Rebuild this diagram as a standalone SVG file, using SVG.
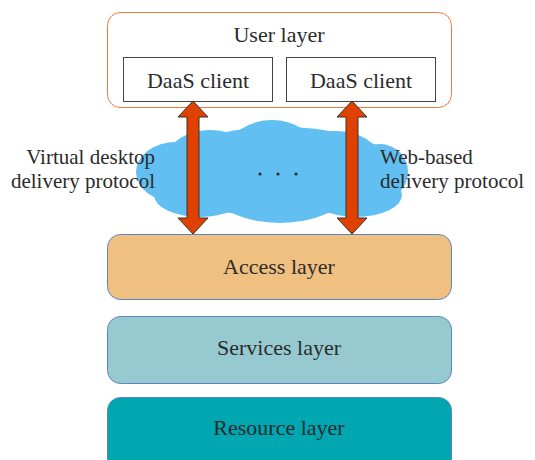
<svg xmlns="http://www.w3.org/2000/svg" width="535" height="460" viewBox="0 0 535 460" font-family="'Liberation Serif', serif">
  <style>
    text { font-family: 'Liberation Serif', 'Times New Roman', serif !important; fill: #2b2b2b; }
    .lbl { font-size: 22px; text-anchor: middle; }
    .side { font-size: 21px; }
    .layer { stroke: #5a86c0; stroke-width: 1; }
    .client { fill: #ffffff; stroke: #444444; stroke-width: 1; }
    .arrow { fill: #e04000; stroke: #333333; stroke-width: 1; stroke-linejoin: miter; }
    .cloud { fill: #62bff2; }
    .dot { fill: #2b2b2b; }
  </style>
  <rect width="535" height="460" fill="#ffffff"/>

  <!-- Network cloud -->
  <g id="cloud">
    <g class="cloud">
      <ellipse cx="280" cy="172" rx="120" ry="45"/>
      <ellipse cx="176" cy="172" rx="40" ry="30"/>
      <ellipse cx="380" cy="172" rx="28" ry="28"/>
      <ellipse cx="272" cy="152" rx="44" ry="32"/>
      <ellipse cx="210" cy="157" rx="42" ry="27"/>
      <ellipse cx="336" cy="157" rx="42" ry="26"/>
      <ellipse cx="280" cy="195" rx="62" ry="28"/>
      <ellipse cx="200" cy="195" rx="46" ry="22"/>
      <ellipse cx="356" cy="195" rx="46" ry="22"/>
    </g>
    <circle class="dot" cx="260" cy="174" r="1.6"/>
    <circle class="dot" cx="278" cy="174" r="1.6"/>
    <circle class="dot" cx="296" cy="174" r="1.6"/>
  </g>

  <!-- User layer with clients -->
  <g id="user-layer">
    <rect x="107.5" y="12.5" width="344" height="95" rx="13" fill="#ffffff" stroke="#f07a35" stroke-width="1"/>
    <text class="lbl" x="279" y="42" style="font-family:'Liberation Serif', serif">User layer</text>
  </g>
  <g id="client-left">
    <rect class="client" x="123.5" y="57.5" width="149" height="44"/>
    <text class="lbl" x="198" y="88" style="font-family:'Liberation Serif', serif">DaaS client</text>
  </g>
  <g id="client-right">
    <rect class="client" x="286.5" y="57.5" width="149" height="44"/>
    <text class="lbl" x="361" y="88" style="font-family:'Liberation Serif', serif">DaaS client</text>
  </g>

  <!-- Protocol connectors -->
  <g id="connectors">
    <polygon class="arrow" points="193,101 208,117 199,117 199,218 208,218 193,234 178,218 187,218 187,117 178,117"/>
    <polygon class="arrow" points="352,101 367,117 358,117 358,218 367,218 352,234 337,218 346,218 346,117 337,117"/>
  </g>

  <g id="label-left">
    <text class="side" x="155" y="164" text-anchor="end" style="font-family:'Liberation Serif', serif">Virtual desktop</text>
    <text class="side" x="155" y="188" text-anchor="end" style="font-family:'Liberation Serif', serif">delivery protocol</text>
  </g>
  <g id="label-right">
    <text class="side" x="380" y="164" style="font-family:'Liberation Serif', serif">Web-based</text>
    <text class="side" x="380" y="188" style="font-family:'Liberation Serif', serif">delivery protocol</text>
  </g>

  <!-- Server-side layers -->
  <g id="access-layer">
    <rect class="layer" x="107.5" y="234.5" width="344" height="65" rx="13" fill="#f0c080"/>
    <text class="lbl" x="279" y="274" style="font-family:'Liberation Serif', serif">Access layer</text>
  </g>
  <g id="services-layer">
    <rect class="layer" x="107.5" y="316.5" width="344" height="67" rx="13" fill="#96c9d0"/>
    <text class="lbl" x="279" y="355" style="font-family:'Liberation Serif', serif">Services layer</text>
  </g>
  <g id="resource-layer">
    <rect class="layer" x="107.5" y="397.5" width="344" height="75" rx="13" fill="#00a6b0"/>
    <text class="lbl" x="279" y="435" style="font-family:'Liberation Serif', serif">Resource layer</text>
  </g>
</svg>
